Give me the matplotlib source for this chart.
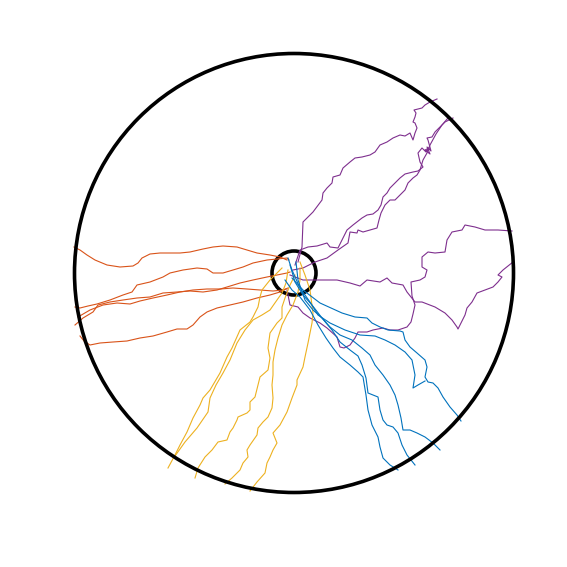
"""
Cell tracks around a point source (chemotaxis plot), coordinates in um relative to the source
"""

import numpy as np
import matplotlib
matplotlib.use("Agg")
import matplotlib.pyplot as plt
from matplotlib.patches import Circle

# radius of the arena and of the source region [um]
arena_radius = 219.5
source_radius = 22

# tracks as (x, y) points, one list per cell
purple_1 = [(4, 11), (8, 26), (9, 51), (13, 55), (19, 61), (28, 73), (29, 80), (33, 85), (38, 90), (39, 96),
            (46, 98), (49, 105), (56, 111), (61, 115), (68, 116), (76, 118), (81, 121), (86, 128), (93, 131),
            (99, 135), (106, 138), (111, 137), (116, 140), (119, 133), (121, 140), (123, 145), (121, 150),
            (119, 151), (121, 156), (122, 160), (120, 163), (128, 165), (131, 168), (136, 171), (143, 174)]
purple_2 = [(1, 8), (6, 23), (14, 26), (23, 27), (33, 30), (36, 26), (44, 25), (53, 43), (59, 48), (68, 55),
            (73, 58), (79, 59), (84, 63), (87, 68), (89, 76), (93, 80), (96, 85), (101, 90), (106, 95), (111, 99),
            (119, 101), (124, 102), (129, 106), (126, 111), (124, 120), (128, 125), (132, 121), (135, 125),
            (131, 123), (136, 119), (133, 126), (137, 122), (134, 133), (133, 135), (138, 136), (141, 141),
            (146, 146), (151, 151), (159, 155)]
purple_3 = [(-1, 3), (9, 5), (21, 11), (33, 15), (44, 23), (54, 30), (56, 41), (63, 40), (64, 43), (69, 41),
            (76, 43), (83, 45), (85, 53), (87, 60), (91, 68), (96, 73), (101, 73), (106, 78), (111, 83), (114, 90),
            (119, 95), (123, 98), (126, 103), (129, 113), (133, 120), (136, 128), (142, 139), (148, 148), (154, 155)]
purple_4 = [(-4, -2), (9, -7), (23, -7), (43, -7), (56, -10), (66, -13), (73, -7), (86, -9), (93, -5), (98, -10),
            (109, -12), (113, -19), (121, -29), (128, -29), (141, -34), (151, -40), (158, -47), (163, -54),
            (164, -56), (171, -42), (173, -35), (178, -29), (183, -20), (191, -17), (199, -14), (204, -9),
            (208, -4), (204, -2), (209, 3), (219, 11)]
purple_5 = [(-7, -17), (-4, -32), (4, -34), (9, -40), (16, -45), (26, -50), (33, -55), (43, -64), (46, -74),
            (50, -75), (56, -72), (61, -65), (64, -59), (73, -59), (79, -57), (89, -55), (96, -57), (104, -57),
            (113, -54), (117, -49), (119, -41), (121, -32), (118, -23), (117, -9), (126, -7), (131, -4), (133, 3),
            (128, 6), (128, 16), (134, 21), (141, 20), (151, 21), (153, 33), (158, 41), (168, 43), (171, 48),
            (181, 46), (191, 43), (204, 43), (218, 42)]

orange_1 = [(-7, 13), (-14, 16), (-24, 18), (-37, 20), (-47, 23), (-57, 26), (-71, 27), (-81, 26), (-91, 24),
            (-104, 21), (-114, 20), (-124, 20), (-134, 20), (-144, 19), (-152, 15), (-156, 10), (-161, 7),
            (-174, 6), (-187, 8), (-199, 13), (-207, 18), (-214, 23), (-220, 26)]
orange_2 = [(-5, 13), (-7, 15), (-17, 14), (-27, 13), (-41, 10), (-51, 6), (-61, 3), (-71, 0), (-81, 0),
            (-87, 4), (-97, 5), (-111, 3), (-124, 0), (-131, -4), (-144, -9), (-157, -12), (-162, -19),
            (-171, -22), (-184, -27), (-197, -31), (-206, -33), (-214, -35), (-219, -34)]
orange_3 = [(-4, 1), (-7, 0), (-17, -2), (-27, -4), (-41, -7), (-54, -10), (-67, -14), (-77, -17), (-91, -19),
            (-104, -18), (-117, -19), (-131, -20), (-144, -24), (-157, -25), (-171, -27), (-184, -29),
            (-196, -32), (-201, -39), (-211, -45), (-219, -52)]
orange_4 = [(-6, -15), (-11, -17), (-21, -18), (-34, -17), (-47, -16), (-61, -15), (-74, -16), (-87, -16),
            (-101, -17), (-114, -19), (-127, -22), (-141, -25), (-154, -28), (-164, -31), (-177, -30),
            (-191, -32), (-204, -37), (-216, -44)]
orange_5 = [(-8, -16), (-14, -19), (-24, -22), (-37, -25), (-51, -29), (-64, -32), (-77, -35), (-87, -39),
            (-94, -44), (-101, -52), (-107, -56), (-117, -56), (-127, -59), (-141, -63), (-154, -65),
            (-167, -68), (-181, -69), (-194, -70), (-204, -72), (-210, -68), (-214, -63)]

yellow_1 = [(-12, 5), (-24, -7), (-32, -17), (-34, -24), (-36, -34), (-41, -44), (-44, -49), (-54, -57),
            (-62, -75), (-67, -84), (-74, -100), (-84, -117), (-91, -125), (-94, -132), (-101, -145),
            (-107, -159), (-114, -172), (-119, -182), (-126, -195)]
yellow_2 = [(-6, 3), (-8, -10), (-12, -20), (-17, -27), (-24, -37), (-32, -42), (-41, -47), (-49, -57),
            (-57, -70), (-64, -87), (-71, -100), (-78, -112), (-84, -125), (-86, -139), (-97, -155),
            (-109, -169), (-119, -183)]
yellow_3 = [(1, -2), (-4, -12), (-9, -25), (-12, -34), (-12, -45), (-17, -50), (-24, -60), (-26, -75),
            (-24, -85), (-26, -97), (-34, -104), (-36, -112), (-39, -124), (-44, -129), (-44, -137), (-47, -140),
            (-56, -144), (-57, -147), (-61, -155), (-64, -159), (-67, -167), (-76, -169), (-82, -177),
            (-89, -184), (-96, -195), (-99, -205)]
yellow_4 = [(6, 5), (6, -7), (4, -19), (-1, -32), (-7, -42), (-12, -52), (-16, -65), (-19, -77), (-21, -89),
            (-21, -102), (-22, -112), (-21, -125), (-22, -135), (-26, -144), (-31, -149), (-36, -155),
            (-37, -162), (-44, -172), (-47, -177), (-46, -184), (-51, -190), (-54, -197), (-62, -205), (-69, -211)]
yellow_5 = [(6, 11), (11, -2), (16, -17), (19, -40), (18, -50), (16, -60), (14, -70), (11, -84), (9, -94),
            (3, -107), (3, -112), (-2, -125), (-7, -139), (-14, -152), (-21, -160), (-17, -170), (-21, -177),
            (-24, -184), (-27, -190), (-29, -200), (-37, -209), (-44, -218)]

blue_1 = [(-2, -5), (9, -17), (26, -30), (48, -40), (61, -44), (73, -45), (78, -50), (86, -54), (94, -57),
          (106, -58), (109, -59), (111, -67), (116, -74), (123, -80), (131, -87), (133, -94), (131, -104),
          (134, -109), (139, -110), (144, -115), (149, -124), (156, -134), (163, -142), (167, -148)]
blue_2 = [(2, 11), (4, -7), (11, -27), (19, -37), (28, -45), (36, -54), (46, -62), (58, -67), (68, -75),
          (76, -82), (81, -92), (89, -102), (96, -112), (101, -122), (104, -132), (107, -145), (109, -157),
          (116, -157), (123, -160), (131, -164), (139, -170), (146, -177)]
blue_3 = [(-4, 8), (1, -9), (9, -22), (18, -32), (28, -45), (38, -57), (46, -69), (56, -77), (64, -83),
          (68, -92), (72, -105), (74, -120), (84, -124), (86, -137), (89, -147), (93, -152), (99, -154),
          (104, -160), (108, -172), (113, -182), (121, -192)]
blue_4 = [(-9, -7), (-2, -17), (6, -24), (16, -37), (24, -52), (32, -65), (39, -75), (46, -84), (56, -92),
          (64, -99), (69, -104), (72, -122), (74, -137), (78, -152), (84, -164), (86, -174), (89, -185),
          (96, -192), (104, -197)]
blue_5 = [(-6, 15), (-2, 3), (6, -15), (16, -29), (24, -42), (36, -50), (51, -57), (66, -62), (81, -63),
          (91, -67), (101, -72), (111, -79), (118, -87), (121, -102), (119, -115), (124, -112), (131, -108)]

groups = {
    "#7E2F8E": [purple_1, purple_2, purple_3, purple_4, purple_5],
    "#D95319": [orange_1, orange_2, orange_3, orange_4, orange_5],
    "#EDB120": [yellow_1, yellow_2, yellow_3, yellow_4, yellow_5],
    "#0072BD": [blue_1, blue_2, blue_3, blue_4, blue_5],
}

fig = plt.figure(figsize=(5.67, 5.67), dpi=100)
ax = fig.add_axes([0, 0, 1, 1])

for color, tracks in groups.items():
    for track in tracks:
        pts = np.array(track)
        ax.plot(pts[:, 0], pts[:, 1], color=color, lw=0.8, zorder=2)

# arena and source outlines
ax.add_patch(Circle((0, 0), arena_radius, fill=False, ec="black", lw=2.6, zorder=3))
ax.add_patch(Circle((0, 0), source_radius, fill=False, ec="black", lw=2.6, zorder=1))

ax.set_xlim(-294, 273)
ax.set_ylim(-294, 273)
ax.set_aspect("equal")
ax.axis("off")

fig.savefig("out.png", dpi=100)
